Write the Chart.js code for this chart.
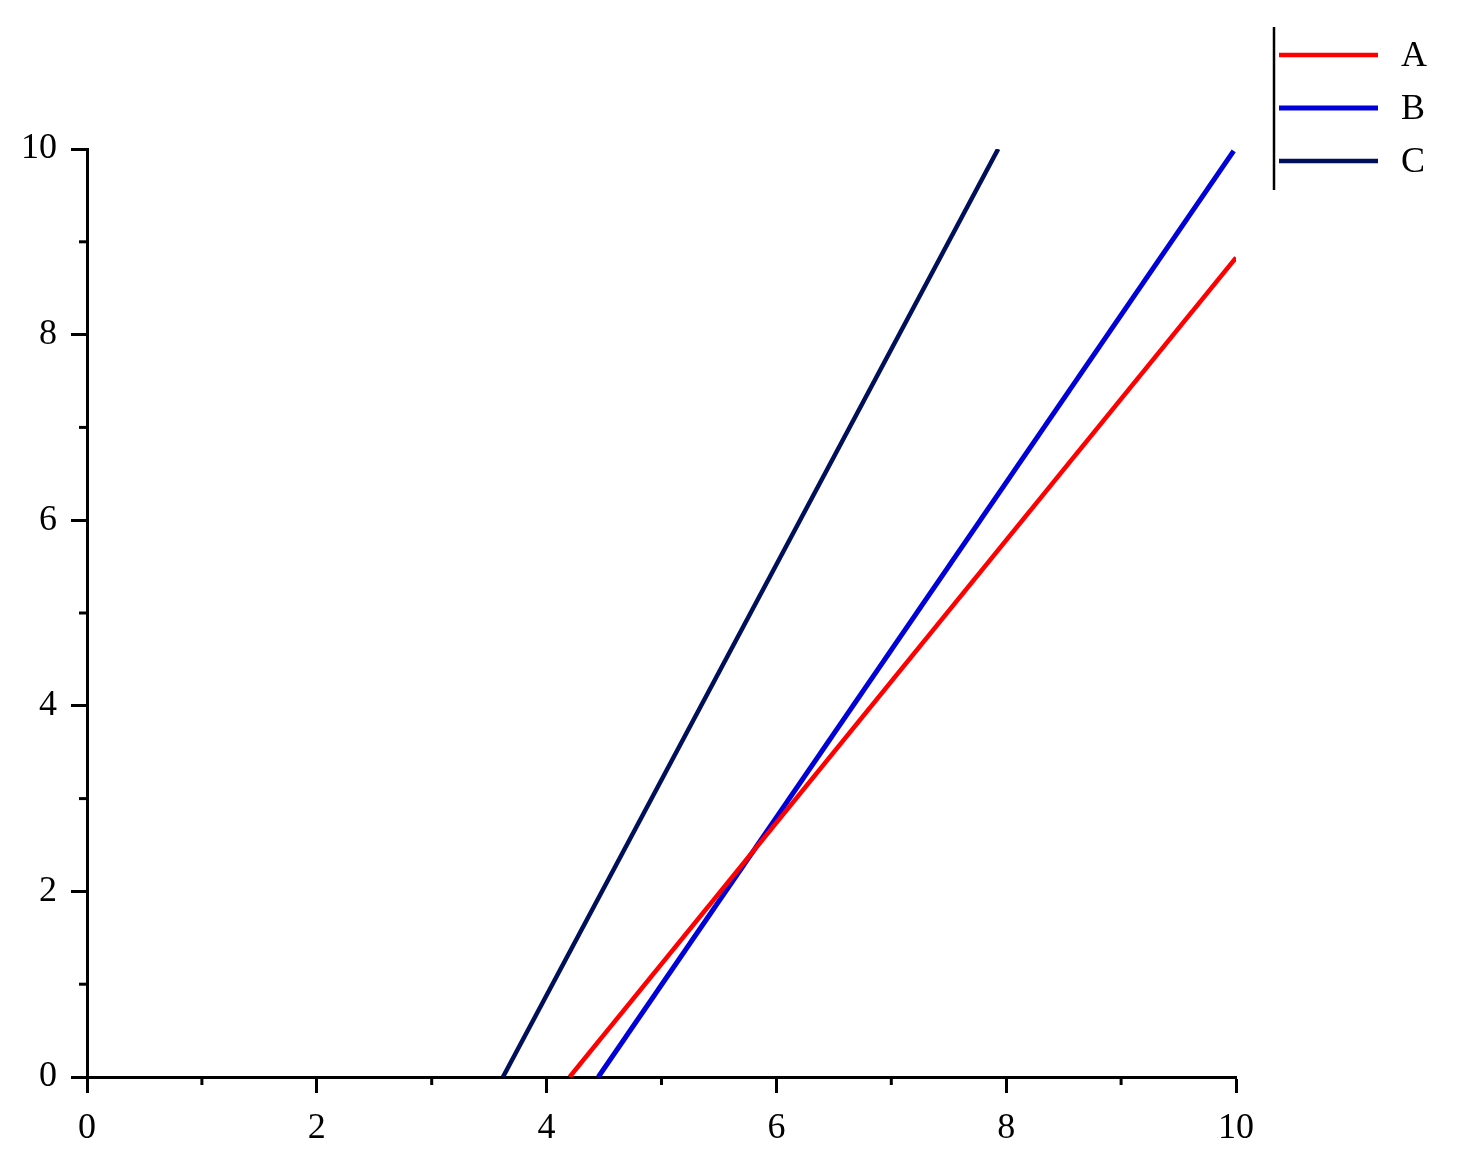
<!DOCTYPE html>
<html>
<head>
<meta charset="utf-8">
<script src="https://cdn.jsdelivr.net/npm/chart.js@4/dist/chart.umd.min.js"></script>
<style>
  html, body { margin: 0; padding: 0; background: #fff; }
  #wrap { width: 1458px; height: 1167px; position: relative; }
</style>
</head>
<body>
<div id="wrap"><canvas id="c"></canvas></div>
<script>
// ---- data ----
const seriesNames = ["A", "B", "C"];
const seriesColors = ["#ff0000", "#0000d8", "#000f5a"];
const seriesWidths = [4.5, 5, 4.5];
const seriesA = [{x: 4.20, y: 0}, {x: 10, y: 8.83}];
const seriesB = [{x: 4.45, y: 0}, {x: 9.98, y: 9.98}];
const seriesC = [{x: 3.62, y: 0}, {x: 7.93, y: 10}];
const xMajorTicks = [0, 2, 4, 6, 8, 10];
const yMajorTicks = [0, 2, 4, 6, 8, 10];
const minorTicks = [1, 3, 5, 7, 9];

const FONT = "'Liberation Serif', 'DejaVu Serif', serif";

const minorTickPlugin = {
  id: 'minorTicks',
  afterDraw(chart) {
    const ctx = chart.ctx;
    const xs = chart.scales.x, ys = chart.scales.y;
    ctx.save();
    ctx.strokeStyle = '#000';
    ctx.lineWidth = 3;
    minorTicks.forEach(v => {
      const px = xs.getPixelForValue(v);
      ctx.beginPath(); ctx.moveTo(px, ys.bottom); ctx.lineTo(px, ys.bottom + 8); ctx.stroke();
      const py = ys.getPixelForValue(v);
      ctx.beginPath(); ctx.moveTo(xs.left, py); ctx.lineTo(xs.left - 8, py); ctx.stroke();
    });
    ctx.restore();
  }
};

const legendPlugin = {
  id: 'customLegend',
  afterDraw(chart) {
    const ctx = chart.ctx;
    ctx.save();
    ctx.strokeStyle = '#000';
    ctx.lineWidth = 2.5;
    ctx.beginPath(); ctx.moveTo(1274, 27); ctx.lineTo(1274, 190); ctx.stroke();
    chart.data.datasets.forEach((ds, i) => {
      const y = 55 + 53 * i;
      ctx.strokeStyle = ds.borderColor;
      ctx.lineWidth = ds.borderWidth;
      ctx.beginPath(); ctx.moveTo(1279, y); ctx.lineTo(1378, y); ctx.stroke();
      ctx.fillStyle = '#000';
      ctx.font = '36px ' + FONT;
      ctx.textBaseline = 'middle';
      ctx.textAlign = 'left';
      ctx.fillText(ds.label, 1401, y + 2);
    });
    ctx.restore();
  }
};

const allSeries = [seriesA, seriesB, seriesC];

new Chart(document.getElementById('c'), {
  type: 'line',
  data: {
    datasets: allSeries.map((d, i) => ({
      label: seriesNames[i],
      data: d,
      borderColor: seriesColors[i],
      borderWidth: seriesWidths[i],
      pointRadius: 0,
      tension: 0,
      fill: false
    }))
  },
  options: {
    responsive: true,
    maintainAspectRatio: false,
    animation: false,
    layout: { padding: { top: 149, right: 222, left: 0, bottom: 0 } },
    plugins: { legend: { display: false }, tooltip: { enabled: false } },
    scales: {
      x: {
        type: 'linear', min: 0, max: 10,
        afterFit(s) { s.height = 90; },
        afterBuildTicks(s) { s.ticks = xMajorTicks.map(v => ({ value: v })); },
        ticks: { color: '#000', font: { family: FONT, size: 36 }, padding: 14, maxRotation: 0 },
        grid: { drawOnChartArea: false, drawTicks: true, tickLength: 16, tickWidth: 3, tickColor: '#000' },
        border: { display: true, color: '#000', width: 3 }
      },
      y: {
        type: 'linear', min: 0, max: 10,
        afterFit(s) { s.width = 87; },
        afterBuildTicks(s) { s.ticks = yMajorTicks.map(v => ({ value: v })); },
        ticks: { color: '#000', font: { family: FONT, size: 36 }, padding: 14 },
        grid: { drawOnChartArea: false, drawTicks: true, tickLength: 16, tickWidth: 3, tickColor: '#000' },
        border: { display: true, color: '#000', width: 3 }
      }
    }
  },
  plugins: [minorTickPlugin, legendPlugin]
});
</script>
</body>
</html>
